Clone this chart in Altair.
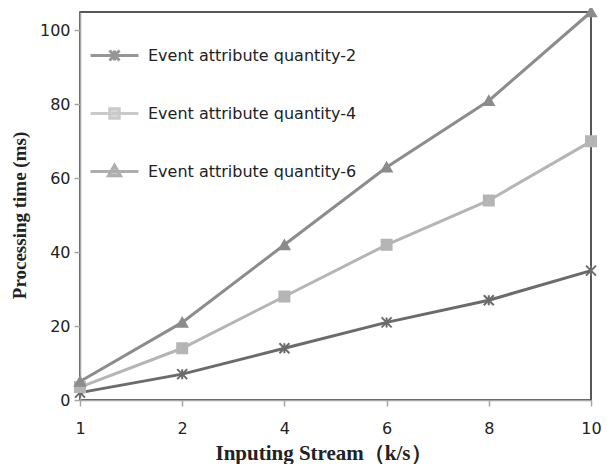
import altair as alt
import pandas as pd

x_labels = ["1", "2", "4", "6", "8", "10"]
series_names = ["Event attribute quantity-2", "Event attribute quantity-4", "Event attribute quantity-6"]
q2 = [2, 7, 14, 21, 27, 35]
q4 = [3.5, 14, 28, 42, 54, 70]
q6 = [5, 21, 42, 63, 81, 105]
colors = ["#6b6b6b", "#b5b5b5", "#8c8c8c"]

rows = []
for name, vals in zip(series_names, [q2, q4, q6]):
    for xl, v in zip(x_labels, vals):
        rows.append({"x": xl, "value": v, "series": name})
df = pd.DataFrame(rows)

x_enc = alt.X("x:N", sort=x_labels,
              scale=alt.Scale(domain=x_labels, type="point", padding=0),
              axis=alt.Axis(title="Inputing Stream（k/s）", labelAngle=0, titleX=243))
y_enc = alt.Y("value:Q", scale=alt.Scale(domain=[0, 105], nice=False),
              axis=alt.Axis(title="Processing time (ms)", values=[0, 20, 40, 60, 80, 100], titleY=203))

point_shapes = ["M-1,-1L1,1M-1,1L1,-1M0,-1V1", "square", "triangle-up"]
legend_shapes = [
    "M-1,0H1M-0.21,-0.21L0.21,0.21M-0.21,0.21L0.21,-0.21M0,-0.21V0.21",
    "M-1,0H1M-0.2,-0.2H0.2V0.2H-0.2Z",
    "M-1,0H1M0,-0.26L0.25,0.18H-0.25Z",
]

sc_color = alt.Scale(domain=series_names, range=colors)

lines = alt.Chart(df).mark_line(strokeWidth=3).encode(
    x=x_enc, y=y_enc,
    color=alt.Color("series:N", scale=sc_color, legend=None),
)

points = alt.Chart(df).mark_point(filled=False, strokeWidth=2, opacity=1, size=100).encode(
    x=x_enc, y=y_enc,
    color=alt.Color("series:N", scale=sc_color, legend=None),
    fill=alt.Fill("series:N", scale=alt.Scale(domain=series_names, range=["transparent", colors[1], colors[2]]), legend=None),
    shape=alt.Shape("series:N", scale=alt.Scale(domain=series_names, range=point_shapes), legend=None),
)

leg = alt.Legend(
    title=None, orient="none", legendX=9, legendY=18,
    symbolSize=2300, symbolStrokeWidth=3,
    labelFont="DejaVu Sans", labelFontSize=16, labelColor="#222222",
    labelOffset=8, rowPadding=21, labelLimit=400,
)
legend_layer = alt.Chart(df).transform_filter("false").mark_point(filled=True).encode(
    x=x_enc, y=y_enc,
    fill=alt.Fill("series:N", scale=alt.Scale(domain=series_names, range=colors), legend=leg),
    stroke=alt.Stroke("series:N", scale=alt.Scale(domain=series_names, range=colors), legend=leg),
    shape=alt.Shape("series:N", scale=alt.Scale(domain=series_names, range=legend_shapes), legend=leg),
)

chart = alt.layer(lines, points, legend_layer).resolve_scale(
    color="independent", shape="independent", fill="independent", stroke="independent"
).properties(
    width=511, height=388,
    autosize=alt.AutoSizeParams(type="none"),
    padding={"left": 72, "top": 4, "right": 12, "bottom": 64},
).configure_view(
    stroke="#222222", strokeWidth=1.5
).configure_axis(
    grid=False, domainColor="#a6a6a6", domainWidth=1.5, tickColor="#a6a6a6", tickWidth=1.5,
    tickSize=6, labelFont="DejaVu Sans", labelFontSize=16, labelColor="#222222",
    titleFont="Liberation Serif", titleFontWeight="bold", titleColor="#222222", zindex=1,
).configure_axisX(
    labelPadding=14, titleFontSize=21, titlePadding=6,
).configure_axisY(
    labelPadding=4, titleFontSize=19, titlePadding=10,
)

chart.save("out.html", embed_options={"renderer": "svg", "actions": False})
